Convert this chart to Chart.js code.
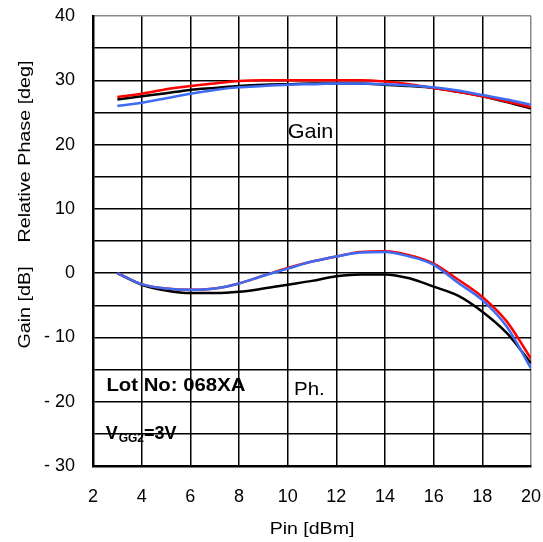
<!DOCTYPE html>
<html>
<head>
<meta charset="utf-8">
<script src="https://cdn.jsdelivr.net/npm/chart.js@4.4.1/dist/chart.umd.min.js"></script>
<style>
  html, body { margin: 0; padding: 0; background: #fff; }
  canvas { display: block; }
</style>
</head>
<body>
<canvas id="chart" width="543" height="542"></canvas>
<script>
// input power [dBm]
const pin = [3, 4, 5, 6, 7, 8, 9, 10, 11, 12, 13, 14, 15, 16, 17, 18, 19, 20];

// gain curves (upper group) [dB]
const gainBlack = [27.0, 27.5, 28.0, 28.5, 28.8, 29.1, 29.3, 29.4, 29.5, 29.5, 29.5, 29.3, 29.1, 28.8, 28.2, 27.5, 26.6, 25.6];
const gainRed   = [27.4, 27.9, 28.6, 29.1, 29.5, 29.9, 30.0, 30.0, 30.0, 30.0, 30.0, 29.8, 29.4, 28.8, 28.2, 27.5, 26.7, 25.8];
const gainBlue  = [26.0, 26.5, 27.2, 27.9, 28.5, 28.9, 29.1, 29.3, 29.4, 29.5, 29.5, 29.4, 29.2, 28.9, 28.4, 27.7, 27.0, 26.2];

// relative phase curves (lower group) [deg]
const phBlack = [0, -1.8, -2.7, -3.1, -3.1, -2.9, -2.4, -1.8, -1.2, -0.5, -0.2, -0.2, -0.8, -2.1, -3.5, -6.0, -9.3, -14.0];
const phRed   = [0, -1.7, -2.4, -2.6, -2.4, -1.6, -0.4, 0.8, 1.8, 2.6, 3.3, 3.4, 2.8, 1.5, -1.0, -3.7, -7.5, -13.3];
const phBlue  = [0, -1.7, -2.4, -2.6, -2.4, -1.6, -0.4, 0.7, 1.8, 2.6, 3.2, 3.3, 2.6, 1.3, -1.5, -4.2, -8.3, -14.8];

const xTicks = [2, 4, 6, 8, 10, 12, 14, 16, 18, 20];
const yLabelled = [40, 30, 20, 10, 0, -10, -20, -30];

const pts = (ys) => pin.map((x, i) => ({ x: x, y: ys[i] }));

function line(data, color) {
    return {
        data: pts(data),
        borderColor: color,
        borderWidth: 2.5,
        pointRadius: 0,
        fill: false,
        cubicInterpolationMode: 'monotone'
    };
}

// helper for the free text on the picture, slightly widened like the original
function drawText(ctx, text, x, y, font, sx, align) {
    ctx.save();
    ctx.font = font;
    ctx.fillStyle = '#000';
    ctx.textBaseline = 'middle';
    ctx.textAlign = align || 'left';
    ctx.translate(x, y);
    ctx.scale(sx, 1);
    ctx.fillText(text, 0, 0);
    ctx.restore();
}

const textPlugin = {
    id: 'texts',
    afterDatasetsDraw(chart) {
        const ctx = chart.ctx;
        const xs = chart.scales.x, ys = chart.scales.y;
        const F = 'Arial, "Liberation Sans", sans-serif';

        drawText(ctx, 'Gain', xs.getPixelForValue(10), ys.getPixelForValue(22), '21px ' + F, 1.03);
        drawText(ctx, 'Lot No: 068XA', xs.getPixelForValue(2.55), ys.getPixelForValue(-17.5), 'bold 18px ' + F, 1.13);
        drawText(ctx, 'Ph.', xs.getPixelForValue(10.26), ys.getPixelForValue(-18.2), '19px ' + F, 1.08);

        // V_GG2=3V
        ctx.save();
        ctx.fillStyle = '#000';
        ctx.textBaseline = 'alphabetic';
        let x0 = xs.getPixelForValue(2.52);
        const yb = ys.getPixelForValue(-25.8);
        ctx.font = 'bold 18px ' + F;
        ctx.fillText('V', x0, yb);
        x0 += ctx.measureText('V').width + 1;
        ctx.font = 'bold 12px ' + F;
        ctx.fillText('GG2', x0, yb + 3);
        x0 += ctx.measureText('GG2').width;
        ctx.font = 'bold 18px ' + F;
        ctx.fillText('=3V', x0, yb);
        ctx.restore();

        // axis titles
        drawText(ctx, 'Pin [dBm]', 312, 529, '17px ' + F, 1.15, 'center');
        ctx.save();
        ctx.translate(25, 0);
        ctx.rotate(-Math.PI / 2);
        drawText(ctx, 'Relative Phase [deg]', -151.5, 0, '17px ' + F, 1.16, 'center');
        drawText(ctx, 'Gain [dB]', -307.5, 0, '17px ' + F, 1.16, 'center');
        ctx.restore();
    }
};

new Chart(document.getElementById('chart').getContext('2d'), {
    type: 'line',
    data: {
        datasets: [
            line(gainBlue, '#3d6cf2'),
            line(phBlue, '#3d6cf2'),
            line(gainRed, '#ff0000'),
            line(phRed, '#ff0000'),
            line(gainBlack, '#000000'),
            line(phBlack, '#000000')
        ]
    },
    options: {
        responsive: false,
        animation: false,
        layout: { padding: { top: 16, right: 12, left: 0, bottom: 0 } },
        plugins: {
            legend: { display: false },
            tooltip: { enabled: false }
        },
        scales: {
            x: {
                type: 'linear',
                min: 2,
                max: 20,
                afterFit: (s) => {
                    s.height = 76;
                    s.paddingLeft = 0;
                    s.paddingRight = 0;
                },
                afterBuildTicks: (s) => { s.ticks = xTicks.map(v => ({ value: v })); },
                ticks: {
                    padding: 20,
                    color: '#000',
                    font: { family: 'Arial, "Liberation Sans", sans-serif', size: 18 }
                },
                grid: {
                    drawTicks: false,
                    lineWidth: 1.5,
                    color: (c) => (c.tick && c.tick.value === 20) ? '#8a8a8a' : '#000'
                },
                border: { color: '#000', width: 2.5 }
            },
            y: {
                min: -30,
                max: 40,
                afterFit: (s) => {
                    s.width = 93;
                    s.paddingTop = 0;
                    s.paddingBottom = 0;
                },
                ticks: {
                    stepSize: 5,
                    padding: 18,
                    color: '#000',
                    font: { family: 'Arial, "Liberation Sans", sans-serif', size: 18 },
                    callback: (v) => {
                        if (!yLabelled.includes(v)) return '';
                        return v < 0 ? '- ' + Math.abs(v) : String(v);
                    }
                },
                grid: {
                    drawTicks: false,
                    lineWidth: 1.5,
                    color: (c) => (c.tick && c.tick.value === 40) ? '#8a8a8a' : '#000'
                },
                border: { color: '#000', width: 2.5 }
            }
        }
    },
    plugins: [textPlugin]
});
</script>
</body>
</html>
